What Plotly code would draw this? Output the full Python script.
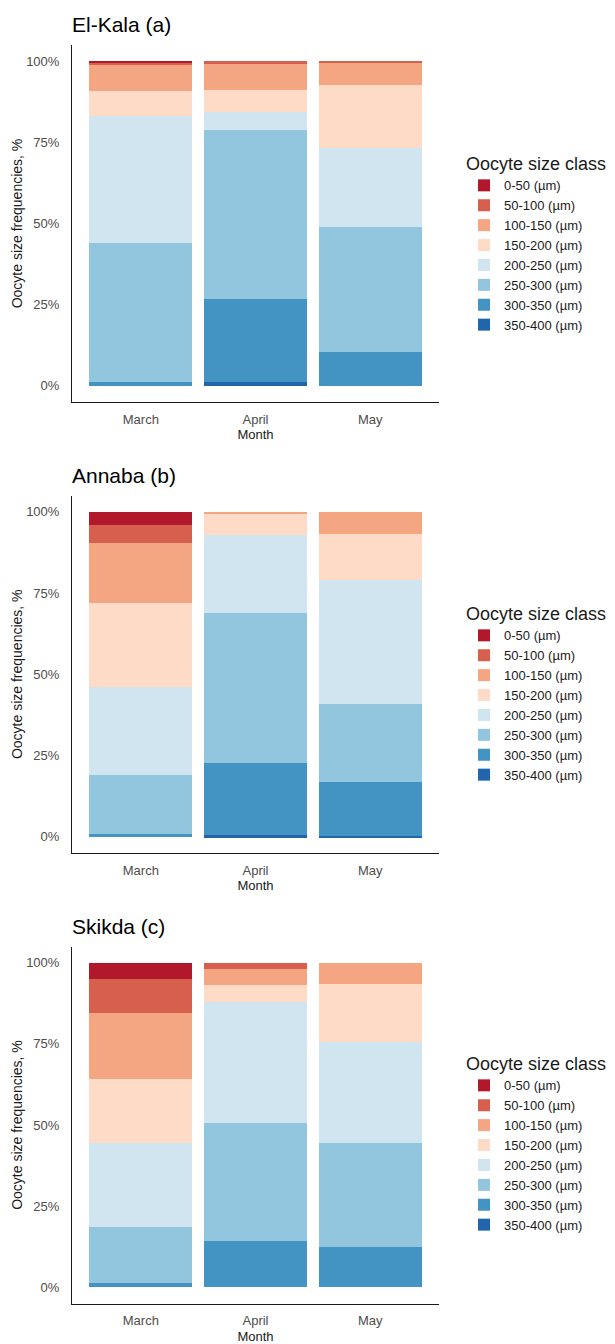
import plotly.graph_objects as go

# ---------------- data ----------------
months = ["March", "April", "May"]
size_classes = ["0-50 (µm)", "50-100 (µm)", "100-150 (µm)", "150-200 (µm)",
                "200-250 (µm)", "250-300 (µm)", "300-350 (µm)", "350-400 (µm)"]
class_colors = ["#B2182B", "#D6604D", "#F4A582", "#FDDBC7",
                "#D1E5F0", "#92C5DE", "#4393C3", "#2166AC"]
y_ticks = [0, 25, 50, 75, 100]
y_tick_labels = ["0%", "25%", "50%", "75%", "100%"]

# frequencies (%) per month, ordered like size_classes (0-50 ... 350-400)
el_kala_march = [0.5, 0.7, 7.9, 7.7, 39.1, 42.8, 1.3, 0.0]
el_kala_april = [0.0, 0.6, 8.4, 6.7, 5.4, 52.0, 25.7, 1.1]
el_kala_may = [0.0, 0.3, 7.0, 19.4, 24.4, 38.6, 10.3, 0.0]

annaba_march = [4.1, 5.6, 18.5, 25.6, 27.3, 18.1, 0.8, 0.0]
annaba_april = [0.0, 0.0, 0.3, 7.0, 23.7, 46.4, 22.1, 0.5]
annaba_may = [0.0, 0.0, 6.9, 14.1, 38.0, 24.1, 16.7, 0.2]

skikda_march = [4.9, 10.5, 20.3, 19.7, 25.9, 17.5, 1.2, 0.0]
skikda_april = [0.0, 2.0, 5.0, 5.1, 37.2, 36.5, 14.2, 0.0]
skikda_may = [0.0, 0.0, 6.5, 17.9, 31.0, 32.3, 12.3, 0.0]

site_titles = ["El-Kala (a)", "Annaba (b)", "Skikda (c)"]
site_data = [
    [el_kala_march, el_kala_april, el_kala_may],
    [annaba_march, annaba_april, annaba_may],
    [skikda_march, skikda_april, skikda_may],
]

# ---------------- layout geometry (pixels) ----------------
W, H = 615, 1344
FONT = "Arial, 'Liberation Sans', sans-serif"
x_left, x_right = 72, 439
panels_px = [(45, 402), (495.5, 853), (946.5, 1303.5)]   # (top, bottom) of y axis
title_px = [24.5, 475, 926.5]
legend_top_px = [147, 597, 1047]

fig = go.Figure()

for p, (title, data) in enumerate(zip(site_titles, site_data)):
    sfx = "" if p == 0 else str(p + 1)
    leg = "legend" if p == 0 else f"legend{p + 1}"
    # stack bottom-first (350-400 at the bottom)
    for ci in reversed(range(len(size_classes))):
        fig.add_trace(go.Bar(
            x=months,
            y=[data[m][ci] for m in range(len(months))],
            name=size_classes[ci],
            marker=dict(color=class_colors[ci], line=dict(width=0)),
            xaxis="x" + sfx, yaxis="y" + sfx,
            legend=leg,
            hovertemplate="%{x}<br>" + size_classes[ci] + ": %{y:.1f}%<extra></extra>",
        ))

    top, bot = panels_px[p]
    xdom = [x_left / W, x_right / W]
    ydom = [1 - bot / H, 1 - top / H]

    fig.update_layout(**{
        "xaxis" + sfx: dict(
            domain=xdom, anchor="y" + sfx, type="category",
            categoryorder="array", categoryarray=months,
            range=[-0.6, 2.6],
            showline=True, linecolor="#1a1a1a", linewidth=1,
            ticks="", showgrid=False, zeroline=False,
            tickfont=dict(family=FONT, size=13, color="#4d4d4d"),
            ticklabelstandoff=5,
            title=dict(text="Month", standoff=4,
                       font=dict(family=FONT, size=13, color="#1a1a1a")),
        ),
        "yaxis" + sfx: dict(
            domain=ydom, anchor="x" + sfx,
            range=[-5, 105], tickmode="array",
            tickvals=y_ticks, ticktext=y_tick_labels,
            showline=True, linecolor="#1a1a1a", linewidth=1,
            ticks="", showgrid=False, zeroline=False,
            tickfont=dict(family=FONT, size=13, color="#4d4d4d"),
            ticklabelstandoff=9,
            title=dict(text="Oocyte size frequencies, %", standoff=0,
                       font=dict(family=FONT, size=14, color="#1a1a1a")),
        ),
        leg: dict(
            x=464 / W, xanchor="left",
            y=1 - legend_top_px[p] / H, yanchor="top",
            traceorder="reversed",
            title=dict(text="Oocyte size class",
                       font=dict(family=FONT, size=18, color="#1a1a1a")),
            font=dict(family=FONT, size=13, color="#1a1a1a"),
            bgcolor="rgba(0,0,0,0)", tracegroupgap=0, itemwidth=30,
        ),
    })

    fig.add_annotation(
        text=title, xref="paper", yref="paper",
        x=70 / W, y=1 - title_px[p] / H,
        xanchor="left", yanchor="middle", showarrow=False,
        font=dict(family=FONT, size=21, color="#000000"),
    )

fig.update_layout(
    width=W, height=H,
    margin=dict(l=0, r=0, t=0, b=0),
    barmode="stack", barnorm="percent", bargap=0.1,
    plot_bgcolor="white", paper_bgcolor="white",
    showlegend=True,
    font=dict(family=FONT),
)

fig.write_html("out.html",
               config={"displayModeBar": False},
               post_script="document.body.style.margin='0';document.body.style.overflow='hidden';")
